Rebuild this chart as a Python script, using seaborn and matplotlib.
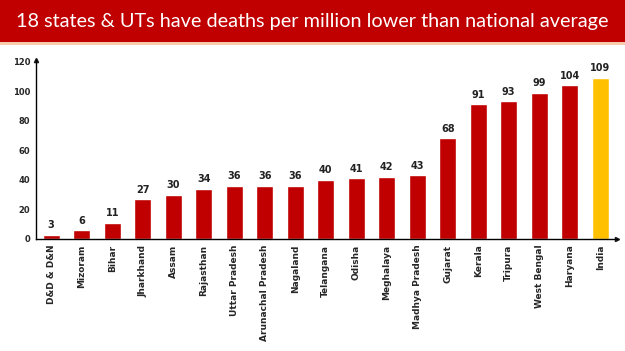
import matplotlib
matplotlib.use("Agg")
import matplotlib.pyplot as plt
import seaborn as sns
import pandas as pd
from matplotlib.patches import Rectangle

states = ["D&D & D&N", "Mizoram", "Bihar", "Jharkhand", "Assam", "Rajasthan",
          "Uttar Pradesh", "Arunachal Pradesh", "Nagaland", "Telangana", "Odisha",
          "Meghalaya", "Madhya Pradesh", "Gujarat", "Kerala", "Tripura",
          "West Bengal", "Haryana", "India"]
deaths = [3, 6, 11, 27, 30, 34, 36, 36, 36, 40, 41, 42, 43, 68, 91, 93, 99, 104, 109]
yticks = [0, 20, 40, 60, 80, 100, 120]
title = "18 states & UTs have deaths per million lower than national average"

RED = "#C00000"
GOLD = "#FFC000"

sns.set_theme(style="white")
plt.rcParams['font.family'] = ['DejaVu Sans']

df = pd.DataFrame({"state": states, "deaths": deaths})
palette = [GOLD if s == "India" else RED for s in states]

fig = plt.figure(figsize=(6.25, 3.51), dpi=100)
fig.patch.set_facecolor("white")

# title bar
fig.patches.append(Rectangle((0, 1 - 42/351), 1, 42/351, transform=fig.transFigure,
                             facecolor=RED, edgecolor="none", zorder=0))
fig.patches.append(Rectangle((0, 1 - 45/351), 1, 3/351, transform=fig.transFigure,
                             facecolor="#F8CBAD", edgecolor="none", zorder=0))
fig.text(0.5, 1 - 21/351, title, color="white", ha="center", va="center",
         fontsize=14.3, family="Lato")

ax = fig.add_axes([36/625, 1 - 239/351, (617 - 36)/625, (239 - 60)/351])
sns.barplot(data=df, x="state", y="deaths", hue="state", palette=palette,
            legend=False, width=0.55, ax=ax, saturation=1)

ax.set_xlim(-0.5, len(states) - 0.45)
ax.set_ylim(0, 121)
ax.set_yticks(yticks)
ax.set_yticklabels([str(v) for v in yticks], fontsize=6, fontweight="bold")
ax.set_xticks(range(len(states)))
ax.set_xticklabels(states, rotation=90, fontsize=6.5, fontweight="bold")
ax.set_xlabel("")
ax.set_ylabel("")
ax.tick_params(axis="both", length=0, pad=4)
for sp in ["top", "right"]:
    ax.spines[sp].set_visible(False)
for sp in ["left", "bottom"]:
    ax.spines[sp].set_color("black")
    ax.spines[sp].set_linewidth(1.0)

# arrowheads
ax.plot(1, 0, ">k", transform=ax.transAxes, clip_on=False, markersize=3)
ax.plot(0, 1, "^k", transform=ax.transAxes, clip_on=False, markersize=3)

for i, v in enumerate(deaths):
    ax.text(i, v + 3, str(v), ha="center", va="bottom", fontsize=7, fontweight="bold",
            color="#222222")

fig.savefig("out.png", dpi=100)
